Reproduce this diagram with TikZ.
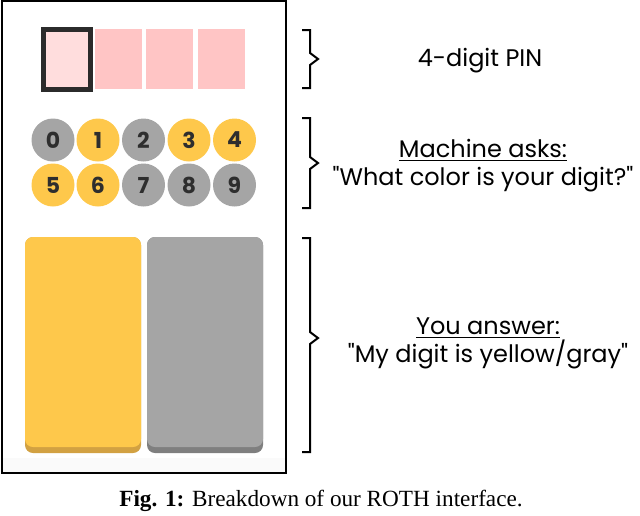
\documentclass[tikz,border=0pt]{standalone}
\usepackage{fontspec}
\setmainfont{Liberation Serif}
\newfontfamily\uifont{Poppins}
\usepackage{xcolor}
\usepackage{tikz}

\definecolor{pinpink}{HTML}{FFC5C5}
\definecolor{pinlight}{HTML}{FFDDDD}
\definecolor{pinframe}{HTML}{2B2B2B}
\definecolor{ansyellow}{HTML}{FEC84B}
\definecolor{ansyellowdk}{HTML}{D2A142}
\definecolor{ansgray}{HTML}{A5A5A5}
\definecolor{ansgraydk}{HTML}{7F7F7F}
\definecolor{digittext}{HTML}{2E2E2E}

\begin{document}
\begin{tikzpicture}[x=0.5pt, y=-0.5pt,
  digit/.style={circle, minimum size=21.5pt, inner sep=0pt, text=digittext,
    font=\uifont\bfseries\fontsize{11}{12}\selectfont},
  pinbox/.style={minimum width=23.5pt, minimum height=30pt, inner sep=0pt},
  label/.style={align=center, anchor=base, font=\uifont\fontsize{12}{13.75}\selectfont},
  brace/.style={line width=1pt, line join=miter}]
  \useasboundingbox (0,0) rectangle (640,515);

  % Rahmen der Oberflaeche
  \fill[gray!4] (3,458) rectangle (285,472);
  \draw[line width=1pt] (2,1) rectangle (286,473);

  % PIN-Felder
  \node[pinbox, fill=pinlight, draw=pinframe, line width=2.5pt] (pin1) at (66.5,59) {};
  \node[pinbox, fill=pinpink] (pin2) at (118.5,59) {};
  \node[pinbox, fill=pinpink] (pin3) at (169.5,59) {};
  \node[pinbox, fill=pinpink] (pin4) at (221,59) {};

  % Ziffern
  \node[digit, fill=ansgray]   (d0) at (53,140) {0};
  \node[digit, fill=ansyellow] (d1) at (98,140) {1};
  \node[digit, fill=ansgray]   (d2) at (143.5,140) {2};
  \node[digit, fill=ansyellow] (d3) at (189,140) {3};
  \node[digit, fill=ansyellow] (d4) at (234.5,140) {4};
  \node[digit, fill=ansyellow] (d5) at (53,185) {5};
  \node[digit, fill=ansyellow] (d6) at (98,185) {6};
  \node[digit, fill=ansgray]   (d7) at (143.5,185) {7};
  \node[digit, fill=ansgray]   (d8) at (189,185) {8};
  \node[digit, fill=ansgray]   (d9) at (234.5,185) {9};

  % Antworttasten
  \fill[ansyellowdk, rounded corners=4pt] (25,237) rectangle (141,453);
  \fill[ansyellow, rounded corners=4pt] (25,237) rectangle (141,447);
  \fill[ansgraydk, rounded corners=4pt] (147,237) rectangle (263,453);
  \fill[ansgray, rounded corners=4pt] (147,237) rectangle (263,447);

  % Klammern
  \draw[brace] (302,30) -- (310,30) -- (310,53) -- (318,59) -- (310,65) -- (310,88) -- (302,88);
  \draw[brace] (302,118) -- (310,118) -- (310,157) -- (318,163) -- (310,169) -- (310,208) -- (302,208);
  \draw[brace] (302,238) -- (310,238) -- (310,332) -- (318,338) -- (310,344) -- (310,452) -- (302,452);

  % Beschriftungen (Grundlinie der letzten Zeile)
  \node[label] (lpin) at (480,66) {4-digit PIN};
  \node[label] (lask) at (483,185) {\underline{Machine asks:}\\"What color is your digit?"};
  \node[label] (lans) at (488,362) {\underline{You answer:}\\"My digit is yellow/gray"};

  % Bildunterschrift
  \node[anchor=base, font=\fontsize{11.6}{13}\selectfont] (cap) at (321,506) {\textbf{Fig. 1:} Breakdown of our ROTH interface.};
\end{tikzpicture}
\end{document}
